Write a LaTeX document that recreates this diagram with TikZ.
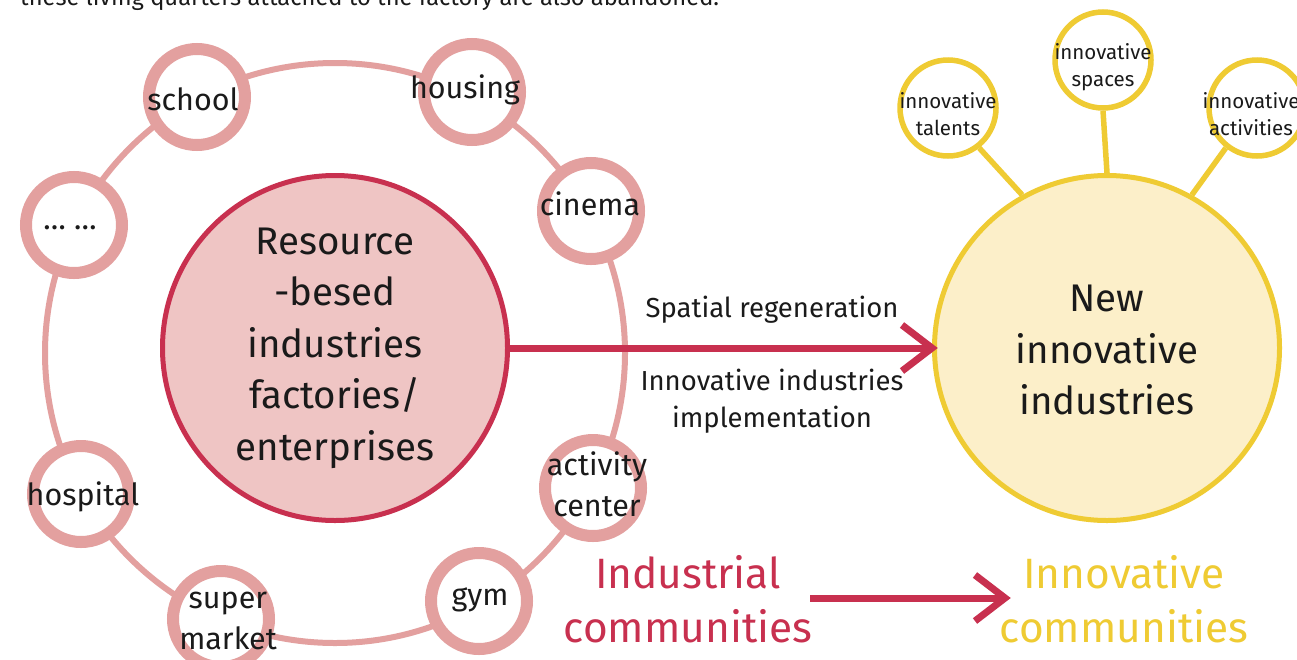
\documentclass[tikz,border=0pt]{standalone}
\usepackage{fontspec}
\setmainfont{Fira Sans}
\usetikzlibrary{calc}
\definecolor{crim}{HTML}{C8304F}
\definecolor{ringpink}{HTML}{E3A09F}
\definecolor{pinkfill}{HTML}{EFC5C4}
\definecolor{yel}{HTML}{EFCB33}
\definecolor{yelfill}{HTML}{FCEFC9}
\definecolor{txt}{HTML}{1A1A1A}
\begin{document}
\begin{tikzpicture}[x=1pt,y=-1pt,
  sat/.style={circle, draw=ringpink, line width=12pt, fill=white, minimum size=96pt, inner sep=0pt},
  satlbl/.style={font=\fontsize{30.5}{41}\selectfont, align=center, inner sep=0pt, text=txt},
  ysat/.style={circle, draw=yel, line width=5.5pt, fill=white, minimum size=96pt, inner sep=0pt},
  ylbl/.style={font=\fontsize{20.5}{27}\selectfont, align=center, inner sep=0pt, text=txt},
  bigtxt/.style={font=\fontsize{38.5}{51.5}\selectfont, align=center, inner sep=0pt, text=txt},
  midtxt/.style={font=\fontsize{27.5}{37}\selectfont, align=center, inner sep=0pt, text=txt},
  comtxt/.style={font=\fontsize{42.4}{54}\selectfont, align=center, inner sep=0pt},
  arr/.style={draw=crim, line width=7pt},
  chev/.style={draw=crim, line width=7pt, line join=miter},
  spoke/.style={draw=yel, line width=5.5pt}
]
\useasboundingbox (0,0) rectangle (1297,659);
\clip (0,0) rectangle (1297,659);
\fill[white] (0,0) rectangle (1297,659);

% top cut-off text
\node[anchor=base west, inner sep=0pt, font=\fontsize{23.7}{28}\selectfont, text=txt] (toptext) at (20,5) {these living quarters attached to the factory are also abandoned.};

% ring
\draw[ringpink, line width=6pt] (335,353) circle (290);

% satellites
\node[sat] (school) at (197,97) {};
\node[sat] (housing) at (472,92) {};
\node[sat] (cinema) at (591,211) {};
\node[sat] (dots) at (74,225) {};
\node[sat] (hospital) at (81,494) {};
\node[sat] (super) at (221,619) {};
\node[sat] (gym) at (479,601) {};
\node[sat] (activity) at (593,488) {};

\node[satlbl] (lschool) at (193,99) {school};
\node[satlbl] (lhousing) at (465,90) {housing};
\node[satlbl] (lcinema) at (590,204) {cinema};
\node[satlbl] (ldots) at (70,228) {\dots\ \dots};
\node[satlbl] (lhospital) at (83,497) {hospital};
\node[satlbl] (lsuper) at (228,621) {super\\market};
\node[satlbl] (lgym) at (480,600) {gym};
\node[satlbl] (lactivity) at (597,484) {activity\\center};

% central circle
\node[circle, draw=crim, fill=pinkfill, line width=5pt, minimum size=345pt, inner sep=0pt] (res) at (335,348) {};
\node[bigtxt] (lres) at (335,348) {Resource\\-besed\\industries\\factories/\\enterprises};

% new innovative industries
\node[circle, draw=yel, fill=yelfill, line width=5pt, minimum size=345pt, inner sep=0pt] (newc) at (1107,348) {};
\node[bigtxt] (lnew) at (1107,350) {New\\innovative\\industries};

% yellow satellites
\node[ysat] (tal) at (948,108) {};
\node[ysat] (spa) at (1103,60) {};
\node[ysat] (act) at (1257,108) {};
\draw[spoke] (tal.-52) -- (newc.119);
\draw[spoke] (spa.south) -- (newc.north);
\draw[spoke] (act.232) -- (newc.61);
\node[ylbl] (ltal) at (948,114) {innovative\\talents};
\node[ylbl] (lspa) at (1103,67) {innovative\\spaces};
\node[ylbl] (lact) at (1251,114) {innovative\\activities};

% main arrow
\draw[arr] (res.east) -- (newc.west);
\draw[chev] ($(newc.west)+(-30,-23)$) -- (newc.west) -- ($(newc.west)+(-30,23)$);
\node[midtxt] (lspat) at (772,310) {Spatial regeneration};
\node[midtxt] (limpl) at (772,401) {Innovative industries\\implementation};

% bottom
\node[comtxt, text=crim] (lind) at (688,599) {Industrial\\communities};
\node[comtxt, text=yel] (linn) at (1124,599) {Innovative\\communities};
\coordinate (b1) at (810,598);
\coordinate (b2) at (1005,598);
\draw[arr] (b1) -- (b2);
\draw[chev] ($(b2)+(-30,-23)$) -- (b2) -- ($(b2)+(-30,23)$);
\end{tikzpicture}
\end{document}
